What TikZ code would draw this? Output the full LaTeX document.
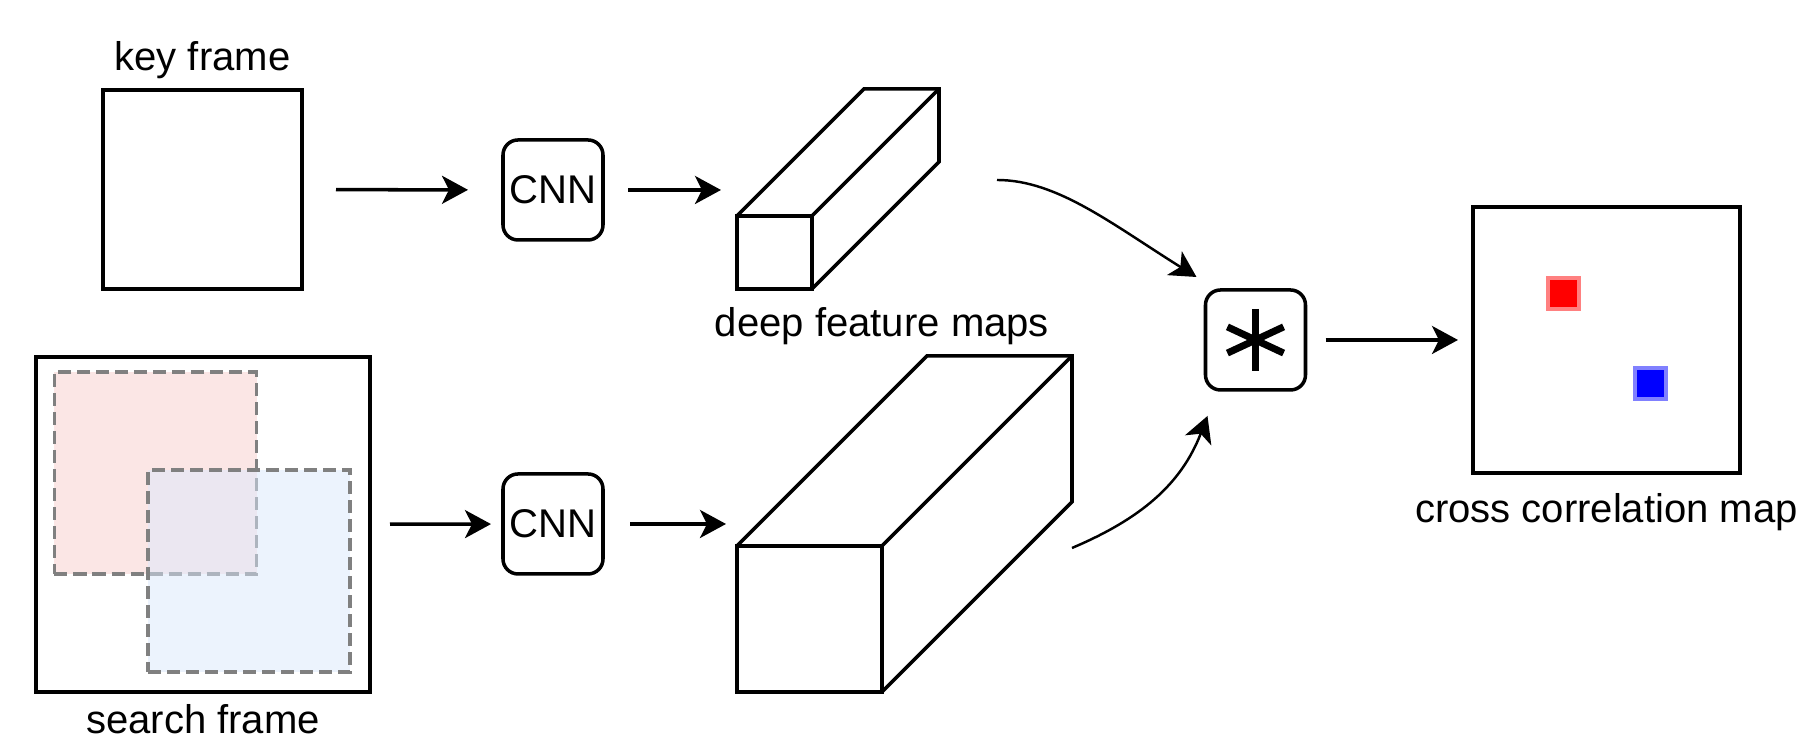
\documentclass[tikz,border=0pt]{standalone}
\usepackage{fontspec}
\setmainfont{Liberation Sans}
\usetikzlibrary{calc,positioning,arrows.meta}

\definecolor{roired}{HTML}{F8CECC}
\definecolor{roiblue}{HTML}{DAE8FC}

\begin{document}
\begin{tikzpicture}[
    font=\fontsize{11.4}{13.7}\selectfont,
    box/.style={draw, line width=1pt, inner sep=0, outer sep=0},
    cnn/.style={box, rounded corners=.15cm, minimum width=1cm, minimum height=1cm},
    roi/.style={draw=gray, line width=.9pt, dash pattern=on .13cm off .06cm, fill opacity=.5,
        minimum width=2.02cm, minimum height=2.02cm, inner sep=0},
    peak/.style={line width=1.1pt, minimum size=.31cm, inner sep=0},
    flow/.style={line width=1pt, -{Stealth[length=.26cm, width=.28cm, inset=.07cm]}},
    caption/.style={inner sep=0}
]
    \def\dk{1.27} \def\ds{1.9}
    \useasboundingbox (0, 0) rectangle (18, 7.4);

    \node[box, minimum width=1.99cm, minimum height=1.99cm] (key) at (2.025, 5.505) {};
    \node[caption, above=.1cm of key] (keylbl) {key frame};

    \node[box, minimum width=3.34cm, minimum height=3.35cm] (search) at (2.03, 2.155) {};
    \node[roi, fill=roired] (prev) at (1.555, 2.67) {};
    \node[roi, fill=roiblue] (cur) at (2.49, 1.69) {};
    \node[caption, below=.12cm of search] (searchlbl) {search frame};

    \node[cnn] (cnnk) at (5.53, 5.5) {CNN};
    \node[cnn] (cnns) at (5.53, 2.16) {CNN};

    \node[box, minimum width=.75cm, minimum height=.73cm] (kfeat) at (7.745, 4.875) {};
    \draw[line width=1pt] (kfeat.north west) -- ++(\dk, \dk) -- ++(.75, 0) coordinate (kback)
        -- ++(0, -.73) -- (kfeat.south east);
    \draw[line width=1pt] (kfeat.north east) -- (kback);
    \node[caption, anchor=base] (featlbl) at (8.82, 4.03) {deep feature maps};

    \node[box, minimum width=1.45cm, minimum height=1.46cm] (sfeat) at (8.095, 1.21) {};
    \draw[line width=1pt] (sfeat.north west) -- ++(\ds, \ds) -- ++(1.45, 0) coordinate (sback)
        -- ++(0, -1.46) -- (sfeat.south east);
    \draw[line width=1pt] (sfeat.north east) -- (sback);

    \node[cnn] (corr) at (12.555, 4) {};
    \foreach \a in {90, 25, 155}
        \draw[line width=2pt] ($ (corr) + (\a:.31) $) -- ($ (corr) + (\a+180:.31) $);

    \node[box, minimum width=2.67cm, minimum height=2.66cm] (map) at (16.065, 4) {};
    \node[peak, fill=red, draw=red!50] (rpeak) at (15.635, 4.465) {};
    \node[peak, fill=blue, draw=blue!50] (bpeak) at (16.505, 3.565) {};
    \node[caption, below=.2cm of map] (maplbl) {cross correlation map};

    \draw[flow, shorten <=.34cm, shorten >=.35cm] (key) -- (cnnk);
    \draw[flow, shorten <=.25cm, shorten >=.16cm] (cnnk) -- (cnnk -| kfeat.west);
    \draw[flow, shorten <=.2cm, shorten >=.12cm] (search) -- (cnns);
    \draw[flow, shorten <=.27cm, shorten >=.11cm] (cnns) -- (cnns -| sfeat.west);
    \draw[flow, shorten <=.2cm, shorten >=.15cm] (corr) -- (map);

    \coordinate (kout) at ($ (kfeat.north east) + (1.85, .36) $);
    \coordinate (kin) at ($ (corr.north west) + (-.09, .13) $);
    \coordinate (sout) at ($ (sfeat.north east) + (1.9, -.02) $);
    \coordinate (sin) at ($ (corr.south west) + (.02, -.26) $);
    \draw[flow, line width=.7pt] (kout) .. controls +(0:.6) and +(148:1) .. (kin);
    \draw[flow, line width=.7pt] (sout) to[out=23, in=249] (sin);
\end{tikzpicture}
\end{document}
